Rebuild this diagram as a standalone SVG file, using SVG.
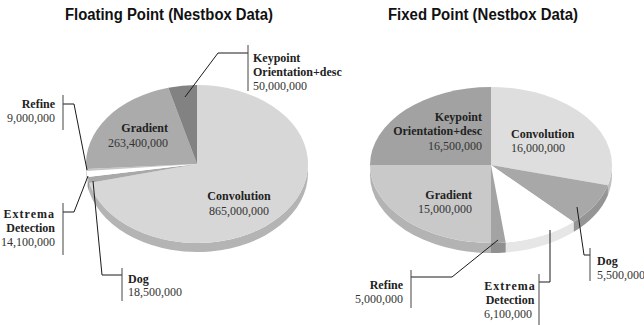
<svg xmlns="http://www.w3.org/2000/svg" width="644" height="325" viewBox="0 0 644 325">
<style>
.title{font-family:"Liberation Sans",Arial,sans-serif;font-weight:bold;font-size:16px;fill:#111}
.nm{font-family:"Liberation Serif","Times New Roman",serif;font-weight:bold;font-size:12px;fill:#222}
.val{font-family:"Liberation Serif","Times New Roman",serif;font-size:12px;fill:#333}
.ld{fill:none;stroke:#1a1a1a;stroke-width:1}
.br{fill:none;stroke:#444;stroke-width:1}
</style>
<rect width="644" height="325" fill="#ffffff"/>
<text class="title" x="65" y="20" textLength="208" lengthAdjust="spacingAndGlyphs">Floating Point (Nestbox Data)</text>
<text class="title" x="388" y="20" textLength="190" lengthAdjust="spacingAndGlyphs">Fixed Point (Nestbox Data)</text>

<!-- LEFT PIE -->
<g id="fl-convolution">
<path d="M308,164 A111,79 0 0 1 89.3,183.1 L89.3,192.1 A111,79 0 0 0 308,173 Z" fill="#b4b4b4"/>
<path d="M197,164 L197,85 A111,79 0 1 1 89.3,183.1 Z" fill="#d7d7d7"/>
<text class="nm" x="239" y="200" text-anchor="middle">Convolution</text>
<text class="val" x="239" y="215" text-anchor="middle">865,000,000</text>
</g>
<g id="fl-dog">
<path d="M89.3,183.1 A111,79 0 0 1 87.5,177 L87.5,186 A111,79 0 0 0 89.3,192.1 Z" fill="#999999"/>
<path d="M197,164 L89.3,183.1 A111,79 0 0 1 87.5,177 Z" fill="#a9a9a9"/>
<text class="nm" x="128" y="283">Dog</text>
<text class="val" x="128" y="296">18,500,000</text>
</g>
<g id="fl-extrema">
<path d="M87.5,177 A111,79 0 0 1 86.4,170.9 L86.4,179.9 A111,79 0 0 0 87.5,186 Z" fill="#e4e4e4"/>
<path d="M197,164 L87.5,177 A111,79 0 0 1 86.4,170.9 Z" fill="#ffffff"/>
<text class="nm" x="55" y="218" text-anchor="end" letter-spacing="1">Extrema</text>
<text class="nm" x="55" y="232" text-anchor="end">Detection</text>
<text class="val" x="55" y="246" text-anchor="end">14,100,000</text>
</g>
<g id="fl-refine">
<path d="M86.4,170.9 A111,79 0 0 1 86.2,169 L86.2,178 A111,79 0 0 0 86.4,179.9 Z" fill="#b0b0b0"/>
<path d="M197,164 L86.4,170.9 A111,79 0 0 1 86.2,169 Z" fill="#c6c6c6"/>
<text class="nm" x="55" y="108" text-anchor="end">Refine</text>
<text class="val" x="55" y="122" text-anchor="end">9,000,000</text>
</g>
<g id="fl-gradient">
<path d="M86.2,169 A111,79 0 0 1 86,164 L86,173 A111,79 0 0 0 86.2,178 Z" fill="#9a9a9a"/>
<path d="M197,164 L86.2,169 A111,79 0 0 1 168.3,87.7 Z" fill="#ababab"/>
<text class="nm" x="168" y="132" text-anchor="end">Gradient</text>
<text class="val" x="168" y="147" text-anchor="end">263,400,000</text>
</g>
<g id="fl-keypoint">
<path d="M197,164 L168.3,87.7 A111,79 0 0 1 197,85 Z" fill="#828282"/>
<text class="nm" x="253" y="62">Keypoint</text>
<text class="nm" x="253" y="76">Orientation+desc</text>
<text class="val" x="253" y="90">50,000,000</text>
</g>

<!-- RIGHT PIE -->
<g id="fx-convolution">
<path d="M612,165 A121,78 0 0 1 607.9,185.2 L607.9,195.2 A121,78 0 0 0 612,175 Z" fill="#c0c0c0"/>
<path d="M491,165 L491,87 A121,78 0 0 1 607.9,185.2 Z" fill="#dedede"/>
<text class="nm" x="511" y="138">Convolution</text>
<text class="val" x="511" y="152">16,000,000</text>
</g>
<g id="fx-dog">
<path d="M607.9,185.2 A121,78 0 0 1 573.5,222 L573.5,232 A121,78 0 0 0 607.9,195.2 Z" fill="#959595"/>
<path d="M491,165 L607.9,185.2 A121,78 0 0 1 573.5,222 Z" fill="#a8a8a8"/>
<text class="nm" x="597" y="265">Dog</text>
<text class="val" x="597" y="279">5,500,000</text>
</g>
<g id="fx-extrema">
<path d="M573.5,222 A121,78 0 0 1 505.7,242.4 L505.7,252.4 A121,78 0 0 0 573.5,232 Z" fill="#e6e6e6"/>
<path d="M491,165 L573.5,222 A121,78 0 0 1 505.7,242.4 Z" fill="#ffffff"/>
<text class="nm" x="510" y="290" text-anchor="middle" letter-spacing="1">Extrema</text>
<text class="nm" x="510" y="304" text-anchor="middle">Detection</text>
<text class="val" x="508" y="318" text-anchor="middle">6,100,000</text>
</g>
<g id="fx-refine">
<path d="M505.7,242.4 A121,78 0 0 1 491,243 L491,253 A121,78 0 0 0 505.7,252.4 Z" fill="#909090"/>
<path d="M491,165 L505.7,242.4 A121,78 0 0 1 491,243 Z" fill="#a3a3a3"/>
<text class="nm" x="403" y="289" text-anchor="end">Refine</text>
<text class="val" x="403" y="303" text-anchor="end">5,000,000</text>
</g>
<g id="fx-gradient">
<path d="M491,243 A121,78 0 0 1 370,165 L370,175 A121,78 0 0 0 491,253 Z" fill="#b3b3b3"/>
<path d="M491,165 L491,243 A121,78 0 0 1 370,165 Z" fill="#c9c9c9"/>
<text class="nm" x="472" y="199" text-anchor="end">Gradient</text>
<text class="val" x="472" y="213" text-anchor="end">15,000,000</text>
</g>
<g id="fx-keypoint">
<path d="M491,165 L370,165 A121,78 0 0 1 491,87 Z" fill="#a2a2a2"/>
<text class="nm" x="482" y="121" text-anchor="end">Keypoint</text>
<text class="nm" x="482" y="135" text-anchor="end">Orientation+desc</text>
<text class="val" x="482" y="150" text-anchor="end">16,500,000</text>
</g>

<!-- CONNECTORS -->
<g id="connectors">
<polyline class="ld" points="185,97 218,53 248,53"/>
<line class="br" x1="248" y1="45" x2="248" y2="91"/>
<polyline class="ld" points="87,170 74,104 63,104"/>
<line class="br" x1="63" y1="95" x2="63" y2="130"/>
<polyline class="ld" points="88,176 74,212 63,212"/>
<line class="br" x1="63" y1="203" x2="63" y2="255"/>
<polyline class="ld" points="93,181 102,275 122,275"/>
<line class="br" x1="122" y1="268" x2="122" y2="301"/>
<polyline class="ld" points="498,240 452,277 411,277"/>
<line class="br" x1="411" y1="270" x2="411" y2="308"/>
<polyline class="ld" points="550,230 550,282 539,282"/>
<line class="br" x1="539" y1="274" x2="539" y2="325"/>
<polyline class="ld" points="577,207 584,255 590,255"/>
<line class="br" x1="590" y1="248" x2="590" y2="281"/>
</g>
</svg>
